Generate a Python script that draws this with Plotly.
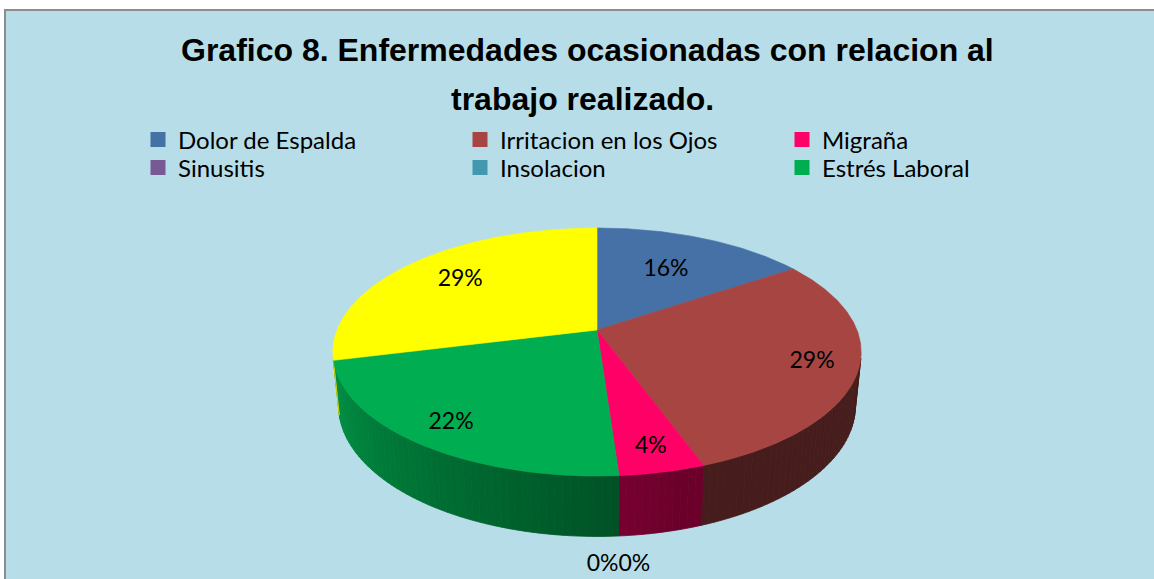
import math
import plotly.graph_objects as go

# ---------------- data ----------------
categories = ["Dolor de Espalda", "Irritacion en los Ojos", "Migraña",
              "Sinusitis", "Insolacion", "Estrés Laboral", ""]
counts = [7, 13, 2, 0, 0, 10, 13]
colors = ["#4671A6", "#A64542", "#FF0066", "#775A93", "#4398AE", "#00AD50", "#FFFF00"]
title_lines = ["Grafico 8. Enfermedades ocasionadas con relacion al",
               "trabajo realizado."]

# ---------------- style / geometry ----------------
W, H_FIG = 1154, 579
CX, CY = 597.0, 330.0          # projected pie centre (px)
A = 260.0                      # radius scale (px)
D = 5.0                        # camera distance (in radii)
SIN_AL = 0.462
COS_AL = math.sqrt(1 - SIN_AL ** 2)
DEPTH = 0.235                  # pie thickness (in radii)
label_radius = [0.62, 0.83, 0.85, 0.0, 0.0, 0.84, 0.72]
BG = "#B7DEE8"


def proj(theta_deg, r=1.0, z=0.0):
    t = math.radians(theta_deg)
    X = r * math.sin(t)
    Y = r * math.cos(t)
    dist = D + Y * COS_AL - z * SIN_AL
    k = A * D / dist
    return CX + X * k, CY - (Y * SIN_AL + z * COS_AL) * k


def shade(hexcol, f):
    h = hexcol.lstrip("#")
    r, g, b = (int(h[i:i + 2], 16) for i in (0, 2, 4))
    return "rgb(%d,%d,%d)" % (round(r * f), round(g * f), round(b * f))


def side_factor(theta):
    if theta <= 165:
        return 0.42
    return min(0.86, 0.42 + 0.0046 * (theta - 165))


total = sum(counts)
fracs = [c / total for c in counts]
bounds = [0.0]
for f in fracs:
    bounds.append(bounds[-1] + f * 360.0)

# visible range of the outer wall
lim = math.degrees(math.acos(-1.0 / (D * COS_AL)))
vis_lo, vis_hi = lim, 360.0 - lim

fig = go.Figure()

# ---- side walls ----
for i, c in enumerate(counts):
    t1, t2 = bounds[i], bounds[i + 1]
    lo, hi = max(t1, vis_lo), min(t2, vis_hi)
    if c == 0 or hi <= lo:
        continue
    n = max(1, math.ceil((hi - lo) / 1.5))
    for j in range(n):
        a = lo + (hi - lo) * j / n
        b = lo + (hi - lo) * (j + 1) / n
        steps = 4
        angs = [a + (b - a) * s / steps for s in range(steps + 1)]
        top = [proj(t, 1.0, 0.0) for t in angs]
        bot = [proj(t, 1.0, -DEPTH) for t in reversed(angs)]
        pts = top + bot + [top[0]]
        col = shade(colors[i], side_factor((a + b) / 2))
        fig.add_trace(go.Scatter(
            x=[p[0] for p in pts], y=[p[1] for p in pts],
            mode="lines", fill="toself", fillcolor=col,
            line=dict(color=col, width=0.8),
            hoverinfo="skip", showlegend=False))

# ---- top faces ----
for i, c in enumerate(counts):
    if c == 0:
        continue
    t1, t2 = bounds[i], bounds[i + 1]
    n = max(2, math.ceil((t2 - t1) / 0.5))
    arc = [proj(t1 + (t2 - t1) * s / n) for s in range(n + 1)]
    pts = [(CX, CY)] + arc + [(CX, CY)]
    fig.add_trace(go.Scatter(
        x=[p[0] for p in pts], y=[p[1] for p in pts],
        mode="lines", fill="toself", fillcolor=colors[i],
        line=dict(color=colors[i], width=0.6),
        hoverinfo="skip", showlegend=False))

# ---- data labels ----
lx, ly, lt = [], [], []
zx, zy, zt, zpos = [], [], [], []
for i, c in enumerate(counts):
    mid = (bounds[i] + bounds[i + 1]) / 2
    txt = "%d%%" % round(fracs[i] * 100)
    if c > 0:
        x, y = proj(mid, label_radius[i], 0.0)
        lx.append(x); ly.append(y); lt.append(txt)
    else:
        x, y = proj(mid, 1.0, -DEPTH)
        zx.append(x); zy.append(y + 18); zt.append(txt)
        zpos.append("bottom left" if len(zpos) % 2 == 0 else "bottom right")

fig.add_trace(go.Scatter(x=lx, y=ly, text=lt, mode="text",
                         textfont=dict(family="Lato", size=23, color="black"),
                         hoverinfo="skip", showlegend=False))
fig.add_trace(go.Scatter(x=zx, y=zy, text=zt, mode="text", textposition=zpos,
                         textfont=dict(family="Lato", size=23, color="black"),
                         hoverinfo="skip", showlegend=False))

# ---- legend entries ----
for i, name in enumerate(categories):
    if not name:
        continue
    fig.add_trace(go.Scatter(
        x=[None], y=[None], mode="markers", name=name,
        marker=dict(symbol="square", size=15, color=colors[i]),
        legend="legend" if i < 3 else "legend2",
        hoverinfo="skip"))

legend_common = dict(orientation="h", xanchor="left", yanchor="middle",
                     x=138 / W, bgcolor="rgba(0,0,0,0)", borderwidth=0,
                     font=dict(family="Lato", size=24, color="black"),
                     entrywidth=277, entrywidthmode="pixels",
                     itemclick=False, itemdoubleclick=False)

fig.update_layout(
    width=W, height=H_FIG,
    margin=dict(l=0, r=0, t=0, b=0),
    paper_bgcolor="white", plot_bgcolor="rgba(0,0,0,0)",
    xaxis=dict(range=[0, W], visible=False, fixedrange=True),
    yaxis=dict(range=[H_FIG, 0], visible=False, fixedrange=True),
    legend=dict(y=1 - 140 / H_FIG, **legend_common),
    legend2=dict(y=1 - 168 / H_FIG, **legend_common),
    shapes=[dict(type="rect", xref="paper", yref="paper",
                 x0=5 / W, y0=-0.05, x1=1.05, y1=1 - 10 / H_FIG,
                 fillcolor=BG, line=dict(color="#8C8C8C", width=2), layer="below")],
    annotations=[
        dict(text="<b>%s</b>" % title_lines[0], x=587 / W, y=1 - 50 / H_FIG,
             xref="paper", yref="paper", showarrow=False, xanchor="center", yanchor="middle",
             font=dict(family="Liberation Sans", size=32, color="black")),
        dict(text="<b>%s</b>" % title_lines[1], x=582 / W, y=1 - 99 / H_FIG,
             xref="paper", yref="paper", showarrow=False, xanchor="center", yanchor="middle",
             font=dict(family="Liberation Sans", size=32, color="black")),
    ],
)

fig.write_html("out.html", config={"displayModeBar": False},
               post_script="document.body.style.margin='0';document.body.style.overflow='hidden';")
